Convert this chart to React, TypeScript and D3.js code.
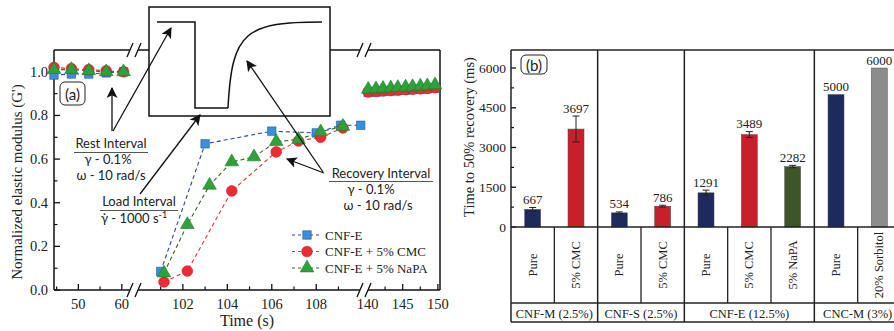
import React from 'react'
import * as d3 from 'd3'

// ---------- panel (a) data ----------
const restTimes = [44.4, 48.4, 52.4, 56.4, 60.4]
const restCnf = [0.985, 0.99, 0.99, 0.995, 1.0]
const restCmc = [1.02, 1.015, 1.01, 1.005, 1.0]
const restNapa = [1.01, 1.01, 1.005, 1.0, 1.0]

const recTimesCnf = [101.0, 103.0, 106.0, 108.0, 109.1, 110.0]
const recCnf = [0.085, 0.67, 0.728, 0.72, 0.755, 0.755]
const recTimesCmc = [101.15, 102.2, 104.2, 106.2, 107.2, 108.2, 109.2]
const recCmc = [0.037, 0.087, 0.454, 0.633, 0.683, 0.7, 0.743]
const recTimesNapa = [101.15, 102.2, 103.2, 104.2, 105.2, 106.2, 107.2, 108.2, 109.2]
const recNapa = [0.078, 0.3, 0.48, 0.587, 0.61, 0.68, 0.69, 0.725, 0.75]

const lateTimes = [140.1, 141.2, 142.2, 143.3, 144.3, 145.4, 146.4, 147.5, 148.5, 149.6]
const lateCnf = [0.905, 0.907, 0.91, 0.912, 0.914, 0.916, 0.918, 0.92, 0.922, 0.925]
const lateCmc = [0.908, 0.91, 0.912, 0.914, 0.916, 0.918, 0.92, 0.922, 0.924, 0.927]
const lateNapa = [0.92, 0.922, 0.924, 0.926, 0.928, 0.93, 0.932, 0.934, 0.936, 0.94]

const xMajorTicks = [50, 60, 102, 104, 106, 108, 140, 145, 150]
const xMinorTicks = [45, 55, 101, 103, 105, 107, 109, 142.5, 147.5]
const yMajorTicks = [0, 0.2, 0.4, 0.6, 0.8, 1.0]
const yMinorTicks = [0.1, 0.3, 0.5, 0.7, 0.9]

// ---------- panel (b) data ----------
const groups = ['CNF-M (2.5%)', 'CNF-S (2.5%)', 'CNF-E (12.5%)', 'CNC-M (3%)']
const barGroup = [0, 0, 1, 1, 2, 2, 2, 3, 3]
const barLabels = ['Pure', '5% CMC', 'Pure', '5% CMC', 'Pure', '5% CMC', '5% NaPA', 'Pure', '20% Sorbitol']
const barKinds = ['pure', 'cmc', 'pure', 'cmc', 'pure', 'cmc', 'napa', 'pure', 'sorbitol']
const barValues = [667, 3697, 534, 786, 1291, 3489, 2282, 5000, 6000]
const barErrors = [70, 490, 35, 35, 100, 110, 45, 0, 0]
const bMajorTicks = [0, 1500, 3000, 4500, 6000]
const bMinorTicks = [750, 2250, 3750, 5250]

const SERIF = '"Liberation Serif", "Times New Roman", serif'
const SANS = 'Lato, "Noto Sans", sans-serif'

const kindColor: Record<string, string> = {
    pure: '#1e2a5e',
    cmc: '#c8202a',
    napa: '#3d5527',
    sorbitol: '#8c8c8c',
}

// panel (a) layout
const A = { left: 54, right: 440, top: 50, bottom: 290 }
const segDomains = [[44.4, 62.8], [99.8, 110.15], [139.5, 150.3]]
const segRanges = [[54, 134], [134, 364], [364, 440]]
const segScales = segDomains.map((d, i) => d3.scaleLinear().domain(d).range(segRanges[i]))
const segOf = (t: number) => (t < 80 ? 0 : t < 120 ? 1 : 2)
const xA = (t: number) => segScales[segOf(t)](t)
const yA = d3.scaleLinear().domain([0, 1.1]).range([A.bottom, A.top])

// panel (b) layout
const B = { left: 511, top: 50, base: 227, catBottom: 303, groupBottom: 322 }
const xB = d3.scaleBand<number>().domain(d3.range(barValues.length)).range([511, 901])
const yB = d3.scaleLinear().domain([0, 6000]).range([B.base, 68])

const series = [
    {
        name: 'CNF-E',
        line: '#2b46a0',
        fill: '#3b8fd9',
        stroke: '#1f5c9c',
        symbol: d3.symbolSquare,
        size: 72,
        parts: [[restTimes, restCnf], [recTimesCnf, recCnf], [lateTimes, lateCnf]],
    },
    {
        name: 'CNF-E + 5% CMC',
        line: '#e0353a',
        fill: '#ee2a32',
        stroke: '#c4222a',
        symbol: d3.symbolCircle,
        size: 90,
        parts: [[restTimes, restCmc], [recTimesCmc, recCmc], [lateTimes, lateCmc]],
    },
    {
        name: 'CNF-E + 5% NaPA',
        line: '#35662c',
        fill: '#2ea23a',
        stroke: '#1c7a2a',
        symbol: d3.symbolTriangle,
        size: 80,
        parts: [[restTimes, restNapa], [recTimesNapa, recNapa], [lateTimes, lateNapa]],
    },
]

function BreakMark({ x, y }: { x: number; y: number }) {
    return (
        <g>
            <polygon points={`${x - 7},${y + 6} ${x - 1},${y - 6} ${x + 7},${y - 6} ${x + 1},${y + 6}`} fill='white' />
            <line x1={x - 7} y1={y + 7} x2={x - 1} y2={y - 7} stroke='#111' strokeWidth={1.3} />
            <line x1={x + 1} y1={y + 7} x2={x + 7} y2={y - 7} stroke='#111' strokeWidth={1.3} />
        </g>
    )
}

function PanelA() {
    const line = d3.line<[number, number]>().x(d => xA(d[0])).y(d => yA(d[1]))
    const sym = (s: any, size: number) => d3.symbol().type(s).size(size)() as string
    return (
        <g>
            {/* frame */}
            <line x1={A.left} y1={A.top} x2={A.left} y2={A.bottom} stroke='#111' strokeWidth={1.5} />
            <line x1={A.left} y1={A.bottom} x2={A.right} y2={A.bottom} stroke='#111' strokeWidth={1.5} />
            <line x1={A.right} y1={A.top} x2={A.right} y2={A.bottom} stroke='#111' strokeWidth={1.5} />
            <line x1={A.left} y1={A.top} x2={A.right} y2={A.top} stroke='#111' strokeWidth={1.5} />
            {/* y ticks */}
            {yMajorTicks.map(v => (
                <g key={'ym' + v}>
                    <line x1={A.left} x2={A.left + 6} y1={yA(v)} y2={yA(v)} stroke='#111' strokeWidth={1.3} />
                    <text x={A.left - 6} y={yA(v)} textAnchor='end' dominantBaseline='central' fontFamily={SERIF} fontSize={14.5} fill='#222'>
                        {v.toFixed(1)}
                    </text>
                </g>
            ))}
            {yMinorTicks.map(v => (
                <line key={'yn' + v} x1={A.left} x2={A.left + 3.5} y1={yA(v)} y2={yA(v)} stroke='#111' strokeWidth={1.2} />
            ))}
            {/* x ticks */}
            {xMajorTicks.map(t => (
                <g key={'xm' + t}>
                    <line x1={xA(t)} x2={xA(t)} y1={A.bottom} y2={A.bottom - 6} stroke='#111' strokeWidth={1.3} />
                    <text x={xA(t)} y={A.bottom + 19} textAnchor='middle' fontFamily={SERIF} fontSize={14.5} fill='#222'>
                        {t}
                    </text>
                </g>
            ))}
            {xMinorTicks.map(t => (
                <line key={'xn' + t} x1={xA(t)} x2={xA(t)} y1={A.bottom} y2={A.bottom - 3.5} stroke='#111' strokeWidth={1.2} />
            ))}
            <BreakMark x={segRanges[0][1]} y={A.bottom} />
            <BreakMark x={segRanges[1][1]} y={A.bottom} />
            <BreakMark x={segRanges[0][1]} y={A.top} />
            <BreakMark x={segRanges[1][1]} y={A.top} />

            <text x={247} y={326} textAnchor='middle' fontFamily={SERIF} fontSize={16} fill='#222'>
                Time (s)
            </text>
            <text transform={`translate(17, ${(A.top + A.bottom) / 2 + 12}) rotate(-90)`} textAnchor='middle' dominantBaseline='central' fontFamily={SERIF} fontSize={15} fill='#222'>
                Normalized elastic modulus (G')
            </text>

            {/* data lines */}
            {series.map(s =>
                s.parts.map((p, j) => (
                    <path
                        key={s.name + 'l' + j}
                        d={line(p[0].map((t, k) => [t, p[1][k]] as [number, number])) as string}
                        fill='none'
                        stroke={s.line}
                        strokeWidth={1.1}
                        strokeDasharray='4,3'
                    />
                ))
            )}
            {/* markers */}
            {series.map(s =>
                s.parts.map((p, j) =>
                    p[0].map((t, k) => (
                        <path
                            key={s.name + j + '-' + k}
                            d={sym(s.symbol, s.size)}
                            transform={`translate(${xA(t)},${yA(p[1][k])})`}
                            fill={s.fill}
                            stroke={s.stroke}
                            strokeWidth={0.6}
                        />
                    ))
                )
            )}

            {/* (a) label */}
            <rect x={60} y={82} width={25} height={23} rx={5} fill='white' stroke='#222' strokeWidth={1} />
            <text x={72.5} y={94} textAnchor='middle' dominantBaseline='central' fontFamily={SANS} fontSize={15} fill='#222'>
                (a)
            </text>

            {/* inset schematic */}
            <rect x={149} y={7} width={181} height={109} fill='white' stroke='#111' strokeWidth={1.5} />
            <path d='M157,22 H195 V108 H228' fill='none' stroke='#111' strokeWidth={1.5} />
            <path d='M228,108 C230,70 234,48 248,36 C262,24 285,22 322,22' fill='none' stroke='#111' strokeWidth={1.5} />

            {/* arrows */}
            <g stroke='#111' strokeWidth={1.3} markerEnd='url(#arrowHead)'>
                <line x1={112} y1={131} x2={112} y2={88} />
                <line x1={113} y1={131} x2={171} y2={28} />
                <line x1={140} y1={194} x2={200} y2={115} />
                <line x1={323} y1={172} x2={247} y2={61} />
                <line x1={324} y1={173} x2={287} y2={159} />
            </g>

            {/* annotation text */}
            <g fontFamily={SANS} fontSize={13} fill='#222' textAnchor='middle'>
                <text x={111} y={148}>Rest Interval</text>
                <text x={108} y={164}>γ - 0.1%</text>
                <text x={111} y={180}>ω - 10 rad/s</text>
                <text x={139} y={206}>Load Interval</text>
                <text x={134} y={223}>
                    γ̇ - 1000 s<tspan dy={-5} fontSize={9}>-1</tspan>
                </text>
                <text x={381} y={178}>Recovery Interval</text>
                <text x={371} y={194}>γ - 0.1%</text>
                <text x={378} y={210}>ω - 10 rad/s</text>
            </g>
            <line x1={74} x2={148} y1={152.5} y2={152.5} stroke='#555' strokeWidth={1} />
            <line x1={100} x2={178} y1={210.5} y2={210.5} stroke='#555' strokeWidth={1} />
            <line x1={329} x2={433} y1={181.5} y2={181.5} stroke='#555' strokeWidth={1} />

            {/* legend */}
            {series.map((s, i) => {
                const ly = 235 + i * 16.5
                return (
                    <g key={'lg' + s.name}>
                        <line x1={292} x2={322} y1={ly} y2={ly} stroke={s.line} strokeWidth={1.1} strokeDasharray='3,3' />
                        <path d={sym(s.symbol, s.size)} transform={`translate(307,${ly})`} fill={s.fill} stroke={s.stroke} strokeWidth={0.6} />
                        <text x={325} y={ly} dominantBaseline='central' fontFamily={SERIF} fontSize={13} fill='#222'>
                            {s.name}
                        </text>
                    </g>
                )
            })}
        </g>
    )
}

function PanelB() {
    const bw = xB.bandwidth()
    const barW = bw * 0.37
    const groupSpans = groups.map((g, gi) => {
        const idx = barGroup.map((v, i) => (v === gi ? i : -1)).filter(i => i >= 0)
        const x0 = xB(idx[0]) as number
        const x1 = (xB(idx[idx.length - 1]) as number) + bw
        return { g, x0, x1 }
    })
    return (
        <g>
            {/* y axis */}
            {bMajorTicks.map(v => (
                <g key={'bm' + v}>
                    <line x1={B.left} x2={B.left + 5} y1={yB(v)} y2={yB(v)} stroke='#111' strokeWidth={1.3} />
                    <text x={B.left - 5} y={yB(v)} textAnchor='end' dominantBaseline='central' fontFamily={SERIF} fontSize={13.5} fill='#222'>
                        {v}
                    </text>
                </g>
            ))}
            {bMinorTicks.map(v => (
                <line key={'bn' + v} x1={B.left} x2={B.left + 3} y1={yB(v)} y2={yB(v)} stroke='#111' strokeWidth={1.2} />
            ))}
            <text transform={`translate(469, 137) rotate(-90)`} textAnchor='middle' dominantBaseline='central' fontFamily={SERIF} fontSize={14.5} fill='#222'>
                Time to 50% recovery (ms)
            </text>

            {/* bars */}
            {barValues.map((v, i) => {
                const cx = (xB(i) as number) + bw / 2
                const err = barErrors[i]
                const top = yB(v + err)
                return (
                    <g key={'bar' + i}>
                        <rect x={cx - barW / 2} y={yB(v)} width={barW} height={B.base - yB(v)} fill={kindColor[barKinds[i]]} stroke='#555' strokeWidth={0.5} />
                        {err > 0 && (
                            <g stroke='#222' strokeWidth={1}>
                                <line x1={cx} x2={cx} y1={yB(v - err)} y2={yB(v + err)} />
                                <line x1={cx - 3.5} x2={cx + 3.5} y1={yB(v - err)} y2={yB(v - err)} />
                                <line x1={cx - 3.5} x2={cx + 3.5} y1={yB(v + err)} y2={yB(v + err)} />
                            </g>
                        )}
                        <text x={cx} y={top - 3.5} textAnchor='middle' fontFamily={SERIF} fontSize={13} fill='#222'>
                            {v}
                        </text>
                        <text transform={`translate(${cx}, 265) rotate(-90)`} textAnchor='middle' dominantBaseline='central' fontFamily={SERIF} fontSize={12.5} fill='#222'>
                            {barLabels[i]}
                        </text>
                        {i > 0 && barGroup[i] === barGroup[i - 1] && (
                            <line x1={xB(i) as number} x2={xB(i) as number} y1={B.base} y2={B.catBottom} stroke='#222' strokeWidth={1.3} />
                        )}
                    </g>
                )
            })}

            {/* table lines */}
            <g stroke='#222' strokeWidth={1.5}>
                <line x1={B.left} x2={901} y1={B.top} y2={B.top} />
                <line x1={B.left} x2={901} y1={B.base} y2={B.base} />
                <line x1={B.left} x2={901} y1={B.catBottom} y2={B.catBottom} />
                <line x1={B.left} x2={901} y1={B.groupBottom} y2={B.groupBottom} />
                {groupSpans.map(s => (
                    <line key={'gs' + s.g} x1={s.x0} x2={s.x0} y1={B.top} y2={B.groupBottom} />
                ))}
                <line x1={901} x2={901} y1={B.top} y2={B.groupBottom} />
            </g>
            {groupSpans.map(s => (
                <text key={'gt' + s.g} x={(s.x0 + s.x1) / 2} y={(B.catBottom + B.groupBottom) / 2 + 1} textAnchor='middle' dominantBaseline='central' fontFamily={SERIF} fontSize={12.5} fill='#222'>
                    {s.g}
                </text>
            ))}

            {/* (b) label */}
            <rect x={521} y={55} width={26} height={19} rx={5} fill='white' stroke='#222' strokeWidth={1} />
            <text x={534} y={64.5} textAnchor='middle' dominantBaseline='central' fontFamily={SANS} fontSize={15} fill='#222'>
                (b)
            </text>
        </g>
    )
}

export default function App() {
    return (
        <div>
            <style>{`body{margin:0}`}</style>
            <svg width={894} height={331} viewBox='0 0 894 331' style={{ display: 'block', background: 'white' }}>
                <defs>
                    <marker id='arrowHead' viewBox='0 0 10 10' refX='9' refY='5' markerWidth='11' markerHeight='11' markerUnits='userSpaceOnUse' orient='auto'>
                        <path d='M0,0 L10,5 L0,10 L2.5,5 z' fill='#111' />
                    </marker>
                </defs>
                <PanelA />
                <PanelB />
            </svg>
        </div>
    )
}
